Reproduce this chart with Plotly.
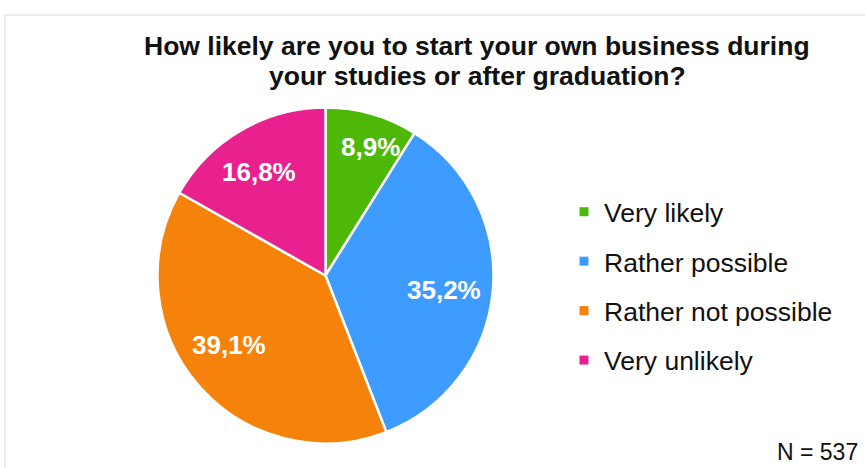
import math
import plotly.graph_objects as go

# Survey answers, N = 537
categories = ["Very likely", "Rather possible", "Rather not possible", "Very unlikely"]
shares = [8.9, 35.2, 39.1, 16.8]
colors = ["#4DB808", "#3E9BFF", "#F5820A", "#E8218F"]
title_lines = [
    "How likely are you to start your own business during",
    "your studies or after graduation?",
]

W, H = 865, 468
FONT = "Liberation Sans, Arial, sans-serif"
INK = "#111111"

# pie placement in pixels (centre and radius)
CX, CY, R = 325.5, 275.5, 168
# how far out (fraction of radius) and how much extra turn each value label gets
label_radius = [0.81, 0.71, 0.71, 0.73]
label_turn = [3.5, 1.5, 5.0, -2.5]

fig = go.Figure()

fig.add_trace(go.Pie(
    labels=categories,
    values=shares,
    sort=False,
    direction="clockwise",
    rotation=0,
    marker=dict(colors=colors, line=dict(color="white", width=2.5)),
    textinfo="none",
    showlegend=False,
    hoverinfo="label+value",
    domain=dict(x=[(CX - R) / W, (CX + R) / W], y=[1 - (CY + R) / H, 1 - (CY - R) / H]),
))

# value labels placed at each slice's middle angle (clockwise from 12 o'clock)
total = sum(shares)
annotations = []
acc = 0.0
for v, rf, turn in zip(shares, label_radius, label_turn):
    mid = (acc + v / 2) / total * 360 + turn
    acc += v
    px = CX + rf * R * math.sin(math.radians(mid))
    py = CY - rf * R * math.cos(math.radians(mid))
    annotations.append(dict(
        text="<b>" + f"{v:.1f}".replace(".", ",") + "%</b>",
        xref="paper", yref="paper", x=px / W, y=1 - py / H,
        xanchor="center", yanchor="middle", showarrow=False,
        font=dict(family=FONT, size=26, color="white"),
    ))

# two-line heading with tight line spacing
for line, ypx in zip(title_lines, [46, 76]):
    annotations.append(dict(
        text="<b>" + line + "</b>", xref="paper", yref="paper",
        x=477 / W, xanchor="center", y=1 - ypx / H, yanchor="middle",
        showarrow=False,
        font=dict(family=FONT, size=26.5, color=INK),
    ))

annotations.append(dict(
    text="N = 537", xref="paper", yref="paper",
    x=860 / W, xanchor="right", y=1 - 452 / H, yanchor="middle",
    showarrow=False,
    font=dict(family=FONT, size=23, color=INK),
))

# Legend entries drawn as small square markers, one group each for spacing
for name, col in zip(categories, colors):
    fig.add_trace(go.Scatter(
        x=[None], y=[None], mode="markers", name=name,
        legendgroup=name,
        marker=dict(symbol="square", size=9, color=col),
    ))

fig.update_layout(
    width=W, height=H,
    margin=dict(l=0, r=0, t=0, b=0),
    paper_bgcolor="white",
    plot_bgcolor="white",
    font=dict(family=FONT, color=INK),
    xaxis=dict(visible=False),
    yaxis=dict(visible=False),
    legend=dict(
        x=564 / W, xanchor="left",
        y=1 - 188 / H, yanchor="top",
        font=dict(family=FONT, size=26.5, color=INK),
        tracegroupgap=12,
        traceorder="grouped",
        bgcolor="rgba(0,0,0,0)",
    ),
    shapes=[dict(
        type="rect", xref="paper", yref="paper",
        x0=5 / W, x1=1.02, y0=-0.02, y1=1 - 15 / H,
        line=dict(color="#D9D9D9", width=1),
        fillcolor="rgba(0,0,0,0)",
    )],
    annotations=annotations,
)

fig.write_html("out.html")
